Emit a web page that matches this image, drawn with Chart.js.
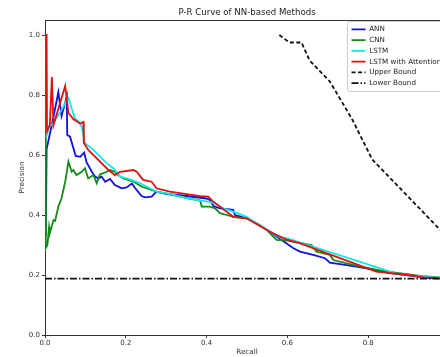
<!DOCTYPE html>
<html>
<head>
<meta charset="utf-8">
<script src="https://cdn.jsdelivr.net/npm/chart.js@4.4.1/dist/chart.umd.min.js"></script>
<style>
  html, body { margin: 0; padding: 0; background: #fff; overflow: hidden; }
  #wrap { width: 460px; height: 357px; }
</style>
</head>
<body>
<div id="wrap"><canvas id="prChart" width="460" height="357"></canvas></div>
<script>
const xTicks = [0, 0.2, 0.4, 0.6, 0.8, 1.0];
const yTicks = [0, 0.2, 0.4, 0.6, 0.8, 1.0];

const annRecall = [0.002, 0.004, 0.012, 0.02, 0.033, 0.041, 0.054, 0.055, 0.062, 0.076, 0.087, 0.097, 0.103, 0.116, 0.124, 0.132, 0.14, 0.149, 0.161, 0.173, 0.19, 0.202, 0.215, 0.223, 0.239, 0.248, 0.264, 0.276, 0.3, 0.34, 0.4, 0.408, 0.417, 0.433, 0.466, 0.47, 0.5, 0.557, 0.582, 0.615, 0.631, 0.664, 0.693, 0.705, 0.747, 0.796, 0.854, 0.903, 0.95, 1.0];
const annPrecision = [0.33, 0.62, 0.67, 0.72, 0.81, 0.73, 0.795, 0.667, 0.661, 0.597, 0.594, 0.608, 0.575, 0.544, 0.528, 0.522, 0.528, 0.511, 0.52, 0.5, 0.489, 0.492, 0.505, 0.49, 0.463, 0.459, 0.461, 0.478, 0.47, 0.465, 0.455, 0.45, 0.43, 0.422, 0.417, 0.4, 0.389, 0.344, 0.32, 0.289, 0.278, 0.267, 0.256, 0.241, 0.233, 0.222, 0.206, 0.198, 0.19, 0.188];

const cnnRecall = [0, 0.002, 0.006, 0.01, 0.012, 0.021, 0.025, 0.033, 0.041, 0.05, 0.058, 0.066, 0.07, 0.078, 0.091, 0.099, 0.107, 0.12, 0.128, 0.136, 0.153, 0.161, 0.173, 0.181, 0.194, 0.219, 0.24, 0.276, 0.3, 0.334, 0.351, 0.384, 0.388, 0.408, 0.421, 0.433, 0.45, 0.466, 0.5, 0.532, 0.549, 0.573, 0.6, 0.66, 0.672, 0.705, 0.714, 0.78, 0.84, 0.895, 0.928, 0.961, 1.0];
const cnnPrecision = [1.0, 0.29, 0.3, 0.36, 0.34, 0.383, 0.38, 0.428, 0.456, 0.511, 0.578, 0.544, 0.55, 0.533, 0.544, 0.556, 0.522, 0.533, 0.506, 0.535, 0.544, 0.55, 0.544, 0.533, 0.522, 0.511, 0.494, 0.478, 0.472, 0.461, 0.456, 0.448, 0.428, 0.428, 0.422, 0.406, 0.4, 0.394, 0.389, 0.367, 0.35, 0.317, 0.315, 0.3, 0.278, 0.267, 0.25, 0.228, 0.213, 0.203, 0.197, 0.194, 0.188];

const lstmRecall = [0.003, 0.012, 0.017, 0.041, 0.054, 0.058, 0.066, 0.074, 0.083, 0.091, 0.095, 0.099, 0.12, 0.153, 0.169, 0.186, 0.202, 0.235, 0.252, 0.276, 0.318, 0.351, 0.384, 0.408, 0.425, 0.441, 0.466, 0.499, 0.549, 0.582, 0.6, 0.866, 0.912, 1.0];
const lstmPrecision = [0.66, 0.7, 0.7, 0.75, 0.783, 0.789, 0.756, 0.722, 0.711, 0.694, 0.667, 0.639, 0.617, 0.572, 0.556, 0.528, 0.522, 0.506, 0.494, 0.478, 0.467, 0.456, 0.448, 0.444, 0.436, 0.422, 0.411, 0.394, 0.35, 0.325, 0.322, 0.206, 0.198, 0.188];

const attRecall = [0, 0.004, 0.005, 0.012, 0.017, 0.021, 0.05, 0.058, 0.07, 0.087, 0.095, 0.096, 0.107, 0.157, 0.173, 0.186, 0.219, 0.227, 0.243, 0.264, 0.276, 0.309, 0.384, 0.404, 0.417, 0.433, 0.466, 0.499, 0.557, 0.598, 0.63, 0.82, 0.903, 0.936, 1.0];
const attPrecision = [1.0, 1.0, 0.68, 0.7, 0.86, 0.7, 0.83, 0.74, 0.72, 0.705, 0.71, 0.64, 0.617, 0.55, 0.533, 0.544, 0.55, 0.544, 0.517, 0.511, 0.489, 0.478, 0.463, 0.461, 0.444, 0.428, 0.394, 0.389, 0.344, 0.318, 0.306, 0.211, 0.2, 0.192, 0.188];

const upperRecall = [0.58, 0.605, 0.635, 0.655, 0.705, 0.76, 0.81, 0.975, 1.0];
const upperPrecision = [1.0, 0.975, 0.975, 0.915, 0.845, 0.72, 0.585, 0.355, 0.32];

const lowerRecall = [0, 1.0];
const lowerPrecision = [0.188, 0.188];

const FONT = "'DejaVu Sans', sans-serif";
const INK = "#333";

function pts(xs, ys) {
  return xs.map((x, i) => ({ x, y: ys[i] }));
}

const series = [
  { label: "ANN", xs: annRecall, ys: annPrecision, color: "#1010e0", dash: [] },
  { label: "CNN", xs: cnnRecall, ys: cnnPrecision, color: "#138a13", dash: [] },
  { label: "LSTM", xs: lstmRecall, ys: lstmPrecision, color: "#10e8e8", dash: [] },
  { label: "LSTM with Attention", xs: attRecall, ys: attPrecision, color: "#e01010", dash: [] },
  { label: "Upper Bound", xs: upperRecall, ys: upperPrecision, color: "#111", dash: [4, 2.5] },
  { label: "Lower Bound", xs: lowerRecall, ys: lowerPrecision, color: "#111", dash: [7, 2, 1.5, 2] },
];

// legend sits inside the plot, top right, with a light frame like matplotlib
const boxPlugin = {
  id: "boxPlugin",
  afterLayout(chart) {
    const lg = chart.legend;
    const area = chart.chartArea;
    lg.left = area.right - 101;
    lg.right = lg.left + lg.width;
    lg.top = area.top + 2.3;
    lg.bottom = area.bottom;
  },
  afterDraw(chart) {
    const { ctx, chartArea: a } = chart;
    ctx.save();
    ctx.strokeStyle = INK;
    ctx.lineWidth = 1;
    ctx.beginPath();
    ctx.moveTo(Math.round(a.left) + 0.5, Math.round(a.top) + 0.5);
    ctx.lineTo(Math.round(a.right) + 0.5, Math.round(a.top) + 0.5);
    ctx.lineTo(Math.round(a.right) + 0.5, Math.round(a.bottom) + 0.5);
    ctx.stroke();
    const lg = chart.legend;
    ctx.strokeStyle = "#cccccc";
    ctx.beginPath();
    ctx.roundRect(lg.left - 0.5, a.top + 1.5, 99, 70, 2);
    ctx.stroke();
    ctx.restore();
  },
};

const tickFont = { family: FONT, size: 7 };
const titleFont = { family: FONT, size: 7.2 };

new Chart(document.getElementById("prChart"), {
  type: "scatter",
  data: {
    datasets: series.map((s, i) => ({
      label: s.label,
      data: pts(s.xs, s.ys),
      showLine: true,
      borderColor: s.color,
      backgroundColor: s.color,
      borderWidth: 1.8,
      borderDash: s.dash,
      pointRadius: 0,
      pointStyle: "line",
      tension: 0,
      order: -i,
    })),
  },
  options: {
    responsive: false,
    animation: false,
    events: [],
    layout: { padding: { left: 0, right: 11, top: 0, bottom: 0 } },
    plugins: {
      tooltip: { enabled: false },
      title: {
        display: true,
        text: "P-R Curve of NN-based Methods",
        fullSize: false,
        color: "#222",
        font: { family: FONT, size: 8.6, weight: "normal" },
        padding: { top: 7.6, bottom: 2.08 },
      },
      legend: {
        position: "chartArea",
        align: "start",
        labels: {
          usePointStyle: true,
          pointStyleWidth: 14,
          boxHeight: 7,
          padding: 3.55,
          color: "#222",
          font: { family: FONT, size: 7.2 },
          generateLabels: (chart) => chart.data.datasets.map((ds, i) => ({
            text: ds.label,
            strokeStyle: ds.borderColor,
            fillStyle: ds.borderColor,
            fontColor: "#222",
            lineWidth: ds.borderWidth,
            lineDash: ds.borderDash,
            pointStyle: "line",
            hidden: false,
            datasetIndex: i,
          })),
        },
      },
    },
    scales: {
      x: {
        type: "linear",
        min: 0,
        max: 1.0,
        afterBuildTicks: (scale) => { scale.ticks = xTicks.map((v) => ({ value: v })); },
        afterFit: (scale) => { scale.height = 22; },
        grid: { drawOnChartArea: false, drawTicks: true, tickLength: 3, color: INK, tickColor: INK },
        border: { display: true, color: INK, width: 1 },
        ticks: { font: tickFont, color: INK, padding: 1, maxRotation: 0, autoSkip: false, callback: (v) => v.toFixed(1) },
        title: { display: true, text: "Recall", font: titleFont, color: INK, padding: { top: 0, bottom: 0.3 } },
      },
      y: {
        type: "linear",
        min: 0,
        max: 1.05,
        afterBuildTicks: (scale) => { scale.ticks = yTicks.map((v) => ({ value: v })); },
        afterFit: (scale) => { scale.width = 45; },
        grid: { drawOnChartArea: false, drawTicks: true, tickLength: 3, color: INK, tickColor: INK },
        border: { display: true, color: INK, width: 1 },
        ticks: { font: tickFont, color: INK, padding: 2, autoSkip: false, callback: (v) => v.toFixed(1) },
        title: { display: true, text: "Precision", font: titleFont, color: INK, padding: { top: 17.4, bottom: 0 } },
      },
    },
  },
  plugins: [boxPlugin],
});
</script>
</body>
</html>
